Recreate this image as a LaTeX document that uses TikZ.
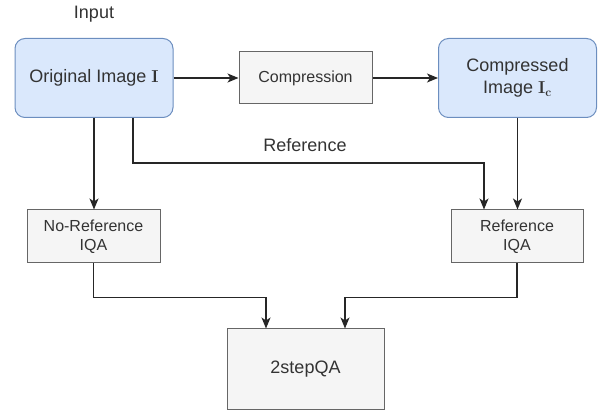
\documentclass[tikz,border=0pt]{standalone}
\usepackage[no-math]{fontspec}
\setmainfont{Liberation Sans}
\usepackage{amsmath}
\definecolor{azulClaro}{HTML}{DAE8FC}
\definecolor{azulBorde}{HTML}{6C8EBF}
\definecolor{grisClaro}{HTML}{F5F5F5}
\definecolor{grisBorde}{HTML}{666666}
\definecolor{texto}{HTML}{333333}
\usepackage{tikz}
\usetikzlibrary{arrows,arrows.meta,positioning}
\tikzstyle{edge}  =[>={Stealth[length=11pt,width=9pt,inset=3pt]},
                    line width=1.2pt, draw=black!85]
\tikzstyle{imgbox}=[rectangle, rounded corners=10pt, draw=azulBorde,
                    fill=azulClaro, line width=1pt, text=texto,
                    minimum width=158pt, minimum height=79pt,
                    inner sep=0pt, align=center,
                    font=\fontsize{18}{22}\selectfont]
\tikzstyle{procbox}=[rectangle, draw=grisBorde, fill=grisClaro,
                    line width=1pt, text=texto, inner sep=0pt,
                    align=center, font=\fontsize{16}{19}\selectfont]
\tikzstyle{lbl}   =[text=texto, font=\fontsize{18}{22}\selectfont]

\begin{document}
\begin{tikzpicture}[x=1pt,y=-1pt]
    \useasboundingbox (0,0) rectangle (605,411);

    \draw (94,14) node (input) [lbl] {Input};
    \draw (94,78) node (orig) [imgbox] {Original Image $\mathbf{I}$};
    \draw (305.5,78) node (comp) [procbox, minimum width=133pt,
        minimum height=52pt] {Compression};
    \draw (517.5,78) node (compd) [imgbox] {Compressed\\Image $\mathbf{I}_{\mathbf{c}}$};
    \draw (305,145) node (reflabel) [lbl] {Reference};

    \draw (93.5,236.5) node (noref) [procbox, minimum width=133pt,
        minimum height=53pt] {No-Reference\\IQA};
    \draw (517,236.5) node (ref) [procbox, minimum width=132pt,
        minimum height=53pt] {Reference\\IQA};
    \draw (305.5,369) node (twostep) [procbox, minimum width=157pt,
        minimum height=80pt, font=\fontsize{18}{22}\selectfont] {2stepQA};

    \foreach \i/\j in {orig/comp,comp/compd}
        \draw [edge,->] (\i) to (\j);
    \foreach \i/\j in {orig/noref,compd/ref}
        \draw [edge,->] (\i.south) to (\i.south |- \j.north);

    \draw [edge,->] ([xshift=39pt]orig.south) -- ++(0,45)
        -| ([xshift=-33pt]ref.north);
    \draw [edge,->] (noref.south) -- ++(0,34)
        -| ([xshift=-39.5pt]twostep.north);
    \draw [edge,->] (ref.south) -- ++(0,34)
        -| ([xshift=39.5pt]twostep.north);

\end{tikzpicture}
\end{document}
